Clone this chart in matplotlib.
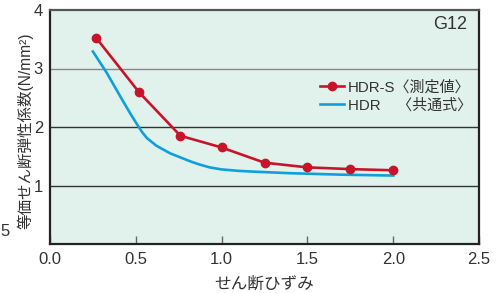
import matplotlib
matplotlib.use('Agg')
import matplotlib.pyplot as plt

plt.rcParams['font.family'] = ['Liberation Sans', 'Noto Sans CJK JP', 'DejaVu Sans']

# HDR-S measured
x_meas = [0.27, 0.52, 0.76, 1.0, 1.25, 1.5, 1.75, 2.0]
y_meas = [3.52, 2.59, 1.85, 1.65, 1.39, 1.31, 1.28, 1.26]
# HDR formula curve
x_calc = [0.25, 0.33, 0.41, 0.47, 0.515, 0.54, 0.565, 0.62, 0.70, 0.82, 0.87, 0.93, 1.0, 1.1, 1.2, 1.4, 1.7, 2.0]
y_calc = [3.29, 2.93, 2.52, 2.22, 2.01, 1.90, 1.81, 1.68, 1.55, 1.41, 1.36, 1.31, 1.275, 1.25, 1.235, 1.21, 1.185, 1.17]

xticks = [0.0, 0.5, 1.0, 1.5, 2.0, 2.5]
xticklabels = ['0.0', '0.5', '1.0', '1.5', '2.0', '2.5']
yticks = [1, 2, 3, 4]

red = '#c8142a'
blue = '#0fa0dc'

fig = plt.figure(figsize=(5.01, 2.93), dpi=100)
ax = fig.add_axes([50/501, 1-244/293, 429/501, 234/293])
ax.set_facecolor('#e1f1eb')

ax.plot(x_meas, y_meas, color=red, lw=1.9, marker='o', ms=6, label='HDR-S〈測定値〉', zorder=3)
ax.plot(x_calc, y_calc, color=blue, lw=1.9, label='HDR    〈共通式〉', zorder=2)

for g, c in zip([1, 2, 3], ['#333333', '#333333', '#888888']):
    ax.axhline(g, color=c, lw=1.0, zorder=1)

ax.set_xlim(0, 2.5)
ax.set_ylim(0, 4)
ax.set_xticks(xticks)
ax.set_xticklabels(xticklabels, fontsize=12, color='#333333')
ax.set_yticks(yticks)
ax.set_yticklabels([str(v) for v in yticks], fontsize=12, color='#333333')
ax.tick_params(axis='x', direction='in', length=6, width=1, color='#666666', pad=6)
ax.tick_params(axis='y', length=0, pad=5)

for s in ax.spines.values():
    s.set_linewidth(1.6)
    s.set_color('#222222')
ax.spines['top'].set_color('#555555')

ax.set_xlabel('せん断ひずみ', fontsize=12, color='#333333', labelpad=7)
ax.set_ylabel('等価せん断弾性係数(N/mm²)', fontsize=11.2, color='#333333')
ax.yaxis.set_label_coords(-17/429, 0.485)

ax.text(0.972, 0.94, 'G12', transform=ax.transAxes, ha='right', va='center',
        fontsize=13, color='#333333')

leg = ax.legend(loc='upper right', bbox_to_anchor=(0.998, 0.725), frameon=False,
                fontsize=10.8, handlelength=1.6, handletextpad=0.3, labelspacing=0.25,
                borderaxespad=0)
for t in leg.get_texts():
    t.set_color('#333333')

fig.text(0.0, 1-232/293, '5', fontsize=12, color='#333333', ha='left', va='center')

fig.savefig('out.png', dpi=100)
